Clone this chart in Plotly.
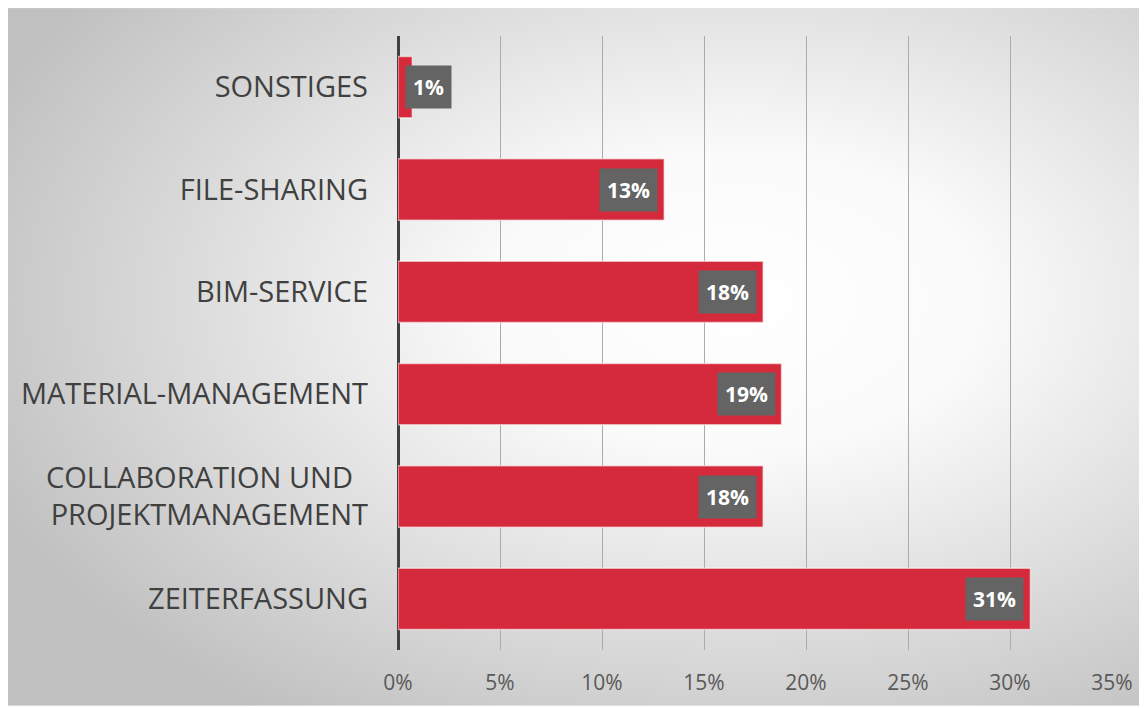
import base64
import plotly.graph_objects as go

categories = ["SONSTIGES", "FILE-SHARING", "BIM-SERVICE", "MATERIAL-MANAGEMENT",
              "COLLABORATION UND\u00a0\u00a0<br>PROJEKTMANAGEMENT", "ZEITERFASSUNG"]
values = [0.7, 13.05, 17.9, 18.8, 17.9, 31.0]
labels = ["1%", "13%", "18%", "19%", "18%", "31%"]
tick_vals = [0, 5, 10, 15, 20, 25, 30, 35]
tick_text = ["0%", "5%", "10%", "15%", "20%", "25%", "30%", "35%"]

# page has an 8px body margin; size the figure so the plot lands where the reference has it
W, H = 1139, 700
L, R, T, B = 390, 35, 28, 56
pw, ph = W - L - R, H - T - B

svg = ('<svg xmlns="http://www.w3.org/2000/svg" width="1139" height="702" preserveAspectRatio="none">'
       '<defs><radialGradient id="g" cx="0.64" cy="0.42" r="0.72">'
       '<stop offset="0" stop-color="#ffffff"/><stop offset="0.3" stop-color="#fafafa"/>'
       '<stop offset="1" stop-color="#c0c0c0"/></radialGradient></defs>'
       '<rect width="100%" height="100%" fill="url(#g)"/></svg>')
src = "data:image/svg+xml;base64," + base64.b64encode(svg.encode()).decode()

fig = go.Figure()
fig.add_trace(go.Bar(
    x=values, y=categories, orientation="h",
    marker=dict(color="#D42A3C", line=dict(color="rgba(255,255,255,0.55)", width=1.5)),
    width=0.6, hoverinfo="skip",
))

annotations = []
for c, v, t in zip(categories, values, labels):
    small = v < 3
    annotations.append(dict(
        x=0 if small else v, y=c, xref="x", yref="y", text=t, showarrow=False,
        xanchor="left" if small else "right", xshift=7 if small else -6,
        bgcolor="#646464", borderpad=7,
        font=dict(family="Open Sans", size=21, color="white", weight="bold"),
    ))

fig.update_layout(
    width=W, height=H,
    margin=dict(l=L, r=R, t=T, b=B),
    paper_bgcolor="white", plot_bgcolor="rgba(0,0,0,0)",
    showlegend=False,
    annotations=annotations,
    images=[dict(source=src, xref="paper", yref="paper", x=-L / pw, y=(H - B) / ph,
                 sizex=W / pw, sizey=H / ph, sizing="stretch",
                 xanchor="left", yanchor="top", layer="below")],
    xaxis=dict(range=[0, 35], tickvals=tick_vals, ticktext=tick_text,
               showgrid=True, gridcolor="#ababab", gridwidth=1,
               zeroline=True, zerolinecolor="#404040", zerolinewidth=3,
               ticks="", ticklabelstandoff=18, fixedrange=True,
               tickfont=dict(family="Open Sans", size=21, color="#595959")),
    yaxis=dict(categoryorder="array", categoryarray=categories, autorange="reversed",
               showgrid=False, zeroline=False, ticks="", ticklabelstandoff=29,
               tickfont=dict(family="Open Sans", size=29, color="#404040")),
    font=dict(family="Open Sans"),
)

fig.write_html("out.html")
